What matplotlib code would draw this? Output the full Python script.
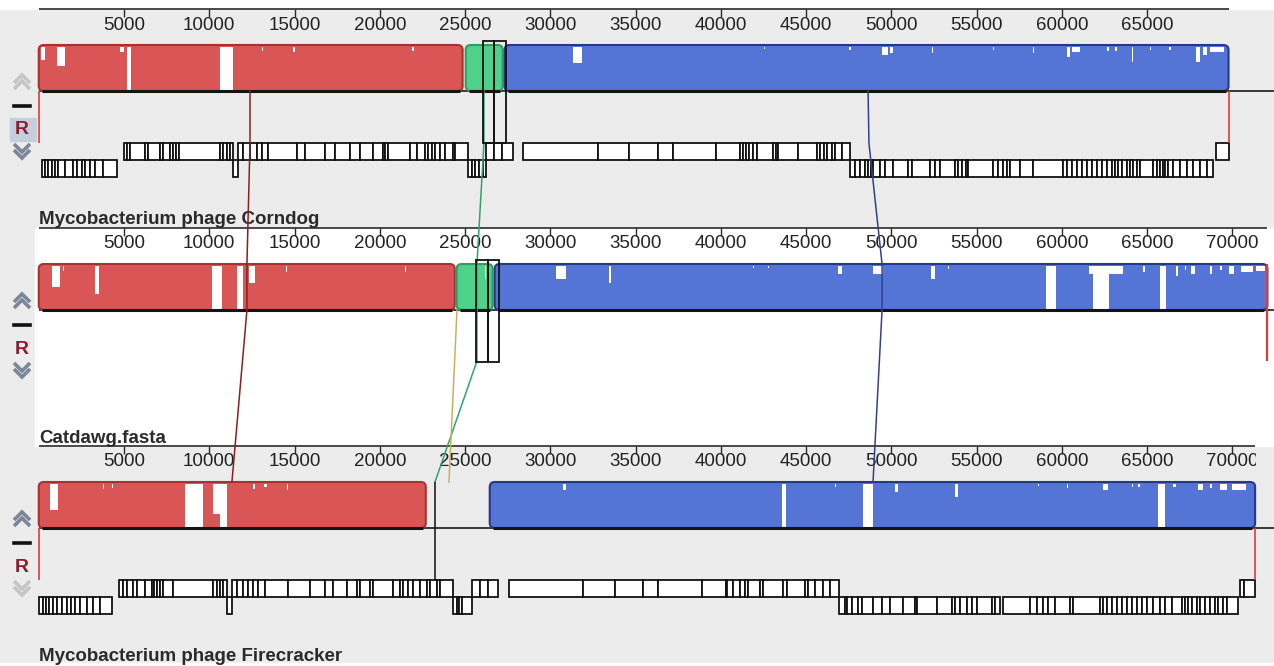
import matplotlib
matplotlib.use("Agg")
import matplotlib.pyplot as plt
from matplotlib.patches import Rectangle, FancyBboxPatch
from matplotlib.transforms import Bbox, TransformedBbox

# ---------------------------------------------------------------- data
names = ["Mycobacterium phage Corndog", "Catdawg.fasta", "Mycobacterium phage Firecracker"]
lengths = [69780, 72060, 71340]

# locally collinear blocks (start, end, colour) per genome
lcbs = [
    [(0, 24860, "red"), (25040, 27210, "green"), (27320, 69780, "blue")],
    [(0, 24400, "red"), (24510, 26620, "green"), (26740, 72060, "blue")],
    [(0, 22700, "red"), (26450, 71340, "blue")],
]

# low-similarity dips in the profile: (start, end, depth as fraction of block height)
gaps_corndog = [
    (130, 370, 0.3), (1070, 1540, 0.45), (4770, 4990, 0.12), (5150, 5410, 1.0),
    (10630, 11400, 1.0), (13100, 13180, 0.1), (14920, 15000, 0.12), (21900, 21980, 0.1),
    (26620, 26680, 0.2), (31330, 31860, 0.37), (42560, 42620, 0.06), (47550, 47620, 0.08),
    (49470, 49800, 0.2), (49900, 50120, 0.15), (52390, 52450, 0.15), (55950, 56010, 0.08),
    (58300, 58370, 0.15), (60300, 60500, 0.25), (60600, 61060, 0.12), (62660, 62750, 0.1),
    (63150, 63250, 0.1), (64100, 64200, 0.35), (65200, 65260, 0.08), (66300, 66380, 0.08),
    (67900, 68100, 0.35), (68300, 68500, 0.2), (68700, 69500, 0.12),
]
gaps_catdawg = [
    (780, 1250, 0.5), (1400, 1480, 0.12), (3300, 3530, 0.65), (10160, 10750, 1.0),
    (11630, 11980, 1.0), (12330, 12680, 0.4), (14500, 14580, 0.15), (21480, 21560, 0.15),
    (26180, 26240, 0.3), (30340, 30920, 0.3), (33440, 33560, 0.4), (41900, 41960, 0.06),
    (42750, 42810, 0.06), (46880, 47110, 0.2), (48930, 49510, 0.2), (52330, 52570, 0.3),
    (53300, 53360, 0.08), (59080, 59660, 1.0), (61600, 63600, 0.2), (61830, 62770, 1.0),
    (64750, 64900, 0.15), (65760, 66110, 1.0), (66700, 66800, 0.25), (67200, 67300, 0.1),
    (67600, 67800, 0.2), (68700, 68800, 0.2), (69300, 69400, 0.1), (69800, 70100, 0.2),
    (70500, 71200, 0.15), (71400, 71900, 0.12),
]
gaps_firecracker = [
    (660, 1130, 0.6), (3770, 3850, 0.12), (4300, 4370, 0.1), (8580, 9630, 1.0),
    (10220, 10630, 0.7), (10630, 11040, 1.0), (12580, 12700, 0.12), (13200, 13400, 0.08),
    (14560, 14640, 0.15), (30760, 30900, 0.15), (43590, 43830, 1.0), (46700, 46780, 0.08),
    (48340, 48930, 1.0), (50220, 50400, 0.2), (53740, 53920, 0.3), (58600, 58660, 0.06),
    (60300, 60360, 0.1), (62420, 62720, 0.15), (64100, 64200, 0.08), (64500, 64600, 0.08),
    (65640, 66050, 1.0), (66500, 66700, 0.08), (68000, 68300, 0.15), (68700, 68800, 0.1),
    (69300, 69700, 0.15), (70000, 70800, 0.15),
]
gaps = [gaps_corndog, gaps_catdawg, gaps_firecracker]

# gene annotation runs: consecutive gene boundaries (bp)
corndog_fwd = [
    [5020, 5160, 5350, 6230, 6430, 7110, 7300, 7700, 7860, 8030, 8230, 10630, 10790, 11020, 11220, 11380],
    [11700, 12000, 12390, 12780, 13080, 13460, 15130, 15620, 16790, 17380, 18260, 18840, 19620, 20210,
     20310, 20500, 21770, 22170, 22650, 22850, 23050, 23240, 23530, 23830, 24310, 24410, 25190],
    [26210, 26700, 27150, 27800],
    [28420, 32820, 34640, 36340, 37180, 39720, 41130, 41290, 41480, 41670, 41910, 42110, 43080, 43240,
     43380, 44550, 45630, 45820, 46060, 46250, 46510, 46700, 47090, 47580],
    [69050, 69780],
]
corndog_rev = [
    [170, 370, 560, 760, 950, 1150, 1540, 2030, 2230, 2520, 2710, 3010, 3300, 3790, 4570],
    [11380, 11700],
    [25190, 25390, 25590, 25840, 26040, 26210],
    [47580, 47870, 48170, 48460, 48650, 48790, 48910, 49340, 49630, 50120, 51000, 51200, 52270, 52570,
     52860, 53740, 53930, 54130, 54380, 54520, 55980, 56280, 56570, 56770, 56960, 57550, 58330, 60090,
     60290, 60580, 60880, 61170, 61460, 61760, 62050, 62340, 62640, 62930, 63120, 63320, 63520, 63810,
     64000, 64200, 64400, 64590, 65370, 65570, 65760, 65920, 66050, 66250, 66540, 66930, 67330, 67710,
     68110, 68500, 68890],
]
firecracker_fwd = [
    [4720, 4920, 5160, 5550, 5750, 6230, 6630, 6760, 6920, 7110, 7300, 7890, 10240, 10440, 10630, 10820, 11020],
    [11320, 11610, 12000, 12290, 12580, 12880, 13270, 14640, 15910, 16790, 17280, 18060, 18680, 18840,
     19430, 19620, 20790, 21190, 21380, 21670, 21970, 22360, 22750, 22950, 23340, 23530, 24310],
    [25390, 25880, 26370, 26950],
    [27600, 31940, 33800, 35460, 36340, 38880, 40310, 40380, 40740, 41130, 41420, 41620, 42300, 42460,
     43670, 43870, 44940, 45130, 45530, 45980, 46410, 46950],
    [70450, 70690, 71330],
]
firecracker_rev = [
    [30, 230, 430, 620, 850, 1090, 1350, 1640, 1870, 2130, 2420, 2810, 3200, 3590, 4280],
    [11020, 11320],
    [24310, 24510, 24670, 24810, 25390],
    [46950, 47290, 47390, 47680, 48070, 48270, 48950, 49440, 49930, 50710, 51390, 51490, 52670, 53540,
     53740, 54030, 54420, 54720, 55010, 55890, 56080, 56380],
    [56570, 58140, 58530, 58920, 59210, 59600, 60480, 60680, 62240, 62440, 62640, 62930, 63220, 63520,
     63810, 64100, 64400, 64690, 64980, 65370, 65760, 66050, 66450, 67030, 67230, 67420, 67620, 67910,
     68110, 68400, 68690, 68990, 69180, 69470, 69670, 70350],
]
genes_fwd = [corndog_fwd, [], firecracker_fwd]
genes_rev = [corndog_rev, [], firecracker_rev]

# LCB connecting lines: position (bp) of the line in each genome
link_red = [12390, 12390, 12210, 12210, 11330]
link_green = [26110, 26110, 25700, 25700, 23240]
link_blue = [48640, 48690, 49460, 49460, 48930]
link_olive = [24530, 24060]

# highlighted region (two boxes) in genomes 1 and 2
highlight = [[26040, 26680, 27380], [25620, 26330, 26970]]

# ---------------------------------------------------------------- layout
W, H = 1274, 666
BPX = 58.65          # bp per pixel
LEFT = 38.75         # pixel where position 0 sits
ruler_y = [9, 228, 446]

fill = {"red": "#da5656", "green": "#4fd08b", "blue": "#5575d6"}
edge = {"red": "#a83232", "green": "#2f9c60", "blue": "#27378a"}

fig = plt.figure(figsize=(W / 100, H / 100), dpi=100)

# window chrome in pixel coordinates
ui = fig.add_axes([0, 0, 1, 1], zorder=0)
ui.set_xlim(0, W)
ui.set_ylim(H, 0)
ui.axis("off")
ui.add_patch(Rectangle((0, 0), W, H, color="#ececec"))
ui.add_patch(Rectangle((0, 0), W, ruler_y[0], color="white"))
ui.add_patch(Rectangle((35, ruler_y[1]), W - 35, ruler_y[2] - ruler_y[1], color="white"))
ui.add_patch(Rectangle((0, H - 3), W, 3, color="white"))


def chevrons(y, up, color):
    s = -1 if up else 1
    for dy in (0, 6):
        yy = y + dy * (1 if up else -1)
        ui.plot([14, 22, 30], [yy - s * 4, yy + s * 4, yy - s * 4], color=color, lw=2.6,
                solid_capstyle="butt", solid_joinstyle="miter")


on, off = "#7d8599", "#c6c6c6"
states = [(off, on), (on, on), (on, off)]
for i, ry in enumerate(ruler_y):
    chevrons(ry + 70, True, states[i][0])
    ui.plot([14, 30], [ry + 97, ry + 97], color="#111111", lw=2.6)
    if i == 0:
        ui.add_patch(Rectangle((10, ry + 109), 26, 23, color="#c5cedb"))
    ui.text(22, ry + 121, "R", color="#8c1d30", fontsize=14, fontweight="bold",
            family="Liberation Sans", ha="center", va="center")
    chevrons(ry + 145, False, states[i][1])

# genome data axes: x in base pairs, y in pixels
ax = fig.add_axes([0, 0, 1, 1], zorder=1)
ax.patch.set_alpha(0)
ax.set_xlim(-LEFT * BPX, (W - LEFT) * BPX)
ax.set_ylim(H, 0)
ax.axis("off")

for i, ry in enumerate(ruler_y):
    L = lengths[i]
    top, bot = ry + 36, ry + 82
    g0, g1, g2 = ry + 134, ry + 151, ry + 168

    # ruler
    ax.hlines(ry, 0, L, color="#2a2a2a", lw=1.2)
    clip = TransformedBbox(Bbox([[0, 0], [L + 0.5 * BPX, H]]), ax.transData)
    for t in range(5000, L + 1, 5000):
        ax.vlines(t, ry, ry + 8, color="#2a2a2a", lw=1.0)
        lab = ax.text(t, ry + 16, str(t), ha="center", va="center", fontsize=13.5,
                      family="Liberation Sans", color="#222222")
        # the last label is cut where the sequence ends
        if t + 24 * BPX > L:
            lab.set_clip_box(clip)
            lab.set_clip_on(True)

    # centre line
    ax.hlines(bot, 0, (W - LEFT) * BPX, color="#1a1a1a", lw=1.2, zorder=1)

    # blocks
    for s, e, c in lcbs[i]:
        box = FancyBboxPatch((s, top), e - s, bot - top,
                             boxstyle=f"round,pad=0,rounding_size={5 * BPX}",
                             mutation_aspect=1 / BPX, facecolor=fill[c],
                             edgecolor=edge[c], lw=1.5, zorder=2)
        ax.add_patch(box)
        ax.hlines(bot, s + 3 * BPX, e - 3 * BPX, color="#141414", lw=2.2, zorder=4)
    for s, e, d in gaps[i]:
        ax.add_patch(Rectangle((s, top + 1.5), e - s, d * (bot - top - 2.5),
                               facecolor="white", edgecolor="none", zorder=3))

    # genes
    for run in genes_fwd[i]:
        for a, b in zip(run[:-1], run[1:]):
            ax.add_patch(Rectangle((a, g0), b - a, g1 - g0, facecolor="white",
                                   edgecolor="#111111", lw=1.3, zorder=5))
    for run in genes_rev[i]:
        for a, b in zip(run[:-1], run[1:]):
            ax.add_patch(Rectangle((a, g1), b - a, g2 - g1, facecolor="white",
                                   edgecolor="#111111", lw=1.3, zorder=5))

    # name
    ax.text(0, ry + 215, names[i], ha="left", va="baseline", fontsize=13.5,
            fontweight="bold", family="Liberation Sans", color="#2b2b2b")

# genome end markers
end_red = "#e03a3a"
y0, y1, y2 = ruler_y
ax.vlines([0, lengths[0]], y0 + 82, y0 + 134, color=end_red, lw=1.2, zorder=6)
ax.vlines(lengths[1], y1 + 36, y1 + 133, color=end_red, lw=1.6, zorder=6)
ax.vlines([0, lengths[2]], y2 + 82, y2 + 134, color=end_red, lw=1.2, zorder=6)

# LCB connecting lines
link_y = [y0 + 82, y0 + 134, y1 + 36, y1 + 82, y2 + 36]
ax.plot(link_red, link_y, color="#8a1f1f", lw=1.1, zorder=6)
ax.plot(link_blue, link_y, color="#34408c", lw=1.1, zorder=6)
ax.plot(link_green, [y0 + 82, y0 + 134, y1 + 36, y1 + 133, y2 + 36],
        color="#2fa56c", lw=1.1, zorder=6)
ax.plot(link_olive, [y1 + 82, y2 + 36], color="#c8b15e", lw=1.1, zorder=6)
ax.vlines(link_green[-1], y2 + 36, y2 + 134, color="#111111", lw=1.1, zorder=6)

# highlighted region outlines
for i, xs in enumerate(highlight):
    ry = ruler_y[i]
    for a, b in zip(xs[:-1], xs[1:]):
        ax.add_patch(Rectangle((a, ry + 32), b - a, 102, facecolor="none",
                               edgecolor="#111111", lw=1.3, zorder=7))

fig.savefig("out.png", dpi=100)
